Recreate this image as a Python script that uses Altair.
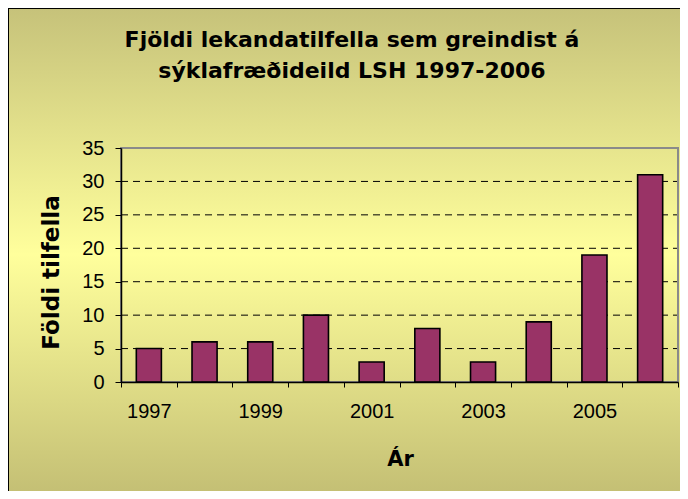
import altair as alt
import pandas as pd

# ---- data ----
years = ["1997", "1998", "1999", "2000", "2001", "2002", "2003", "2004", "2005", "2006"]
cases = [5, 6, 6, 10, 3, 8, 3, 9, 19, 31]
y_ticks = [0, 5, 10, 15, 20, 25, 30, 35]
grid_values = [5, 10, 15, 20, 25, 30]

title_lines = ["Fjöldi lekandatilfella sem greindist á", "sýklafræðideild LSH 1997-2006"]
x_title = "Ár"
y_title = "Földi tilfella"

bars_df = pd.DataFrame({"year": years, "count": cases})
grid_df = pd.DataFrame({"count": grid_values})

# ---- layout (pixels) ----
W, H = 557, 234
PAD = {"left": 113, "top": 140, "right": 2, "bottom": 109}

bold_font = "DejaVu Sans"
label_font = "Liberation Sans"

background = alt.Chart(pd.DataFrame({"a": [0]})).mark_rect(
    fill=alt.Gradient(
        gradient="linear",
        x1=0, y1=0, x2=0, y2=1,
        stops=[
            alt.GradientStop(color="#c6c27a", offset=0),
            alt.GradientStop(color="#ffff9c", offset=0.5),
            alt.GradientStop(color="#c2bd73", offset=1),
        ],
    ),
    stroke="black",
    strokeWidth=2,
).encode(
    x=alt.value(-PAD["left"]),
    x2=alt.value(W + PAD["right"] + 10),
    y=alt.value(-PAD["top"]),
    y2=alt.value(H + PAD["bottom"] + 10),
)

y_scale = alt.Scale(domain=[0, 35], nice=False)
y_axis = alt.Axis(
    title=y_title,
    values=y_ticks,
    titleFont=bold_font,
    titleFontSize=23,
    titleFontWeight="bold",
    titleColor="black",
    titleAngle=270,
    titleX=-63,
    titleY=124,
    titleAlign="center",
    titleBaseline="alphabetic",
    labelFont=label_font,
    labelFontSize=20,
    labelColor="black",
    labelPadding=11,
    tickSize=6,
    tickColor="black",
    tickWidth=1,
    domainColor="black",
    domainWidth=1.5,
    grid=False,
    zindex=1,
)

grid = alt.Chart(grid_df).mark_rule(
    color="black", strokeWidth=1, strokeDash=[7, 5]
).encode(
    y=alt.Y("count:Q", scale=y_scale, axis=y_axis),
    x=alt.value(0),
    x2=alt.value(W),
)

frame = alt.Chart(pd.DataFrame({"a": [0]})).mark_rect(
    fill="transparent", stroke="#8a8a8a", strokeWidth=2
).encode(
    x=alt.value(0), x2=alt.value(W), y=alt.value(0), y2=alt.value(H)
)

bars = alt.Chart(bars_df).mark_bar(
    width=alt.RelativeBandSize(0.45),
    color="#993366",
    stroke="black",
    strokeWidth=1.6,
).encode(
    x=alt.X(
        "year:N",
        sort=years,
        scale=alt.Scale(paddingInner=0, paddingOuter=0),
        axis=alt.Axis(
            title=x_title,
            titleFont=bold_font,
            titleFontSize=21,
            titleFontWeight="bold",
            titleColor="black",
            titleX=279,
            titleY=83,
            titleAlign="center",
            titleBaseline="alphabetic",
            labelFont=label_font,
            labelFontSize=20,
            labelColor="black",
            labelAngle=0,
            labelPadding=14,
            labelExpr="toNumber(datum.value) % 2 == 1 ? datum.label : ''",
            tickBand="extent",
            tickSize=5,
            tickColor="black",
            tickWidth=1,
            domainColor="black",
            domainWidth=1.5,
            grid=False,
            zindex=1,
        ),
    ),
    y=alt.Y("count:Q", scale=y_scale, axis=y_axis),
)

chart = alt.layer(background, grid, frame, bars).properties(
    width=W,
    height=H,
    padding=PAD,
    autosize=alt.AutoSizeParams(type="none"),
    title=alt.TitleParams(
        text=title_lines,
        font=bold_font,
        fontSize=22,
        fontWeight="bold",
        color="black",
        lineHeight=31,
        anchor="middle",
        frame="group",
        dx=-47.5,
        dy=141,
        offset=65,
    ),
).configure_view(stroke=None).configure(background="white")

chart.save("out.html", embed_options={"renderer": "svg", "actions": False})
